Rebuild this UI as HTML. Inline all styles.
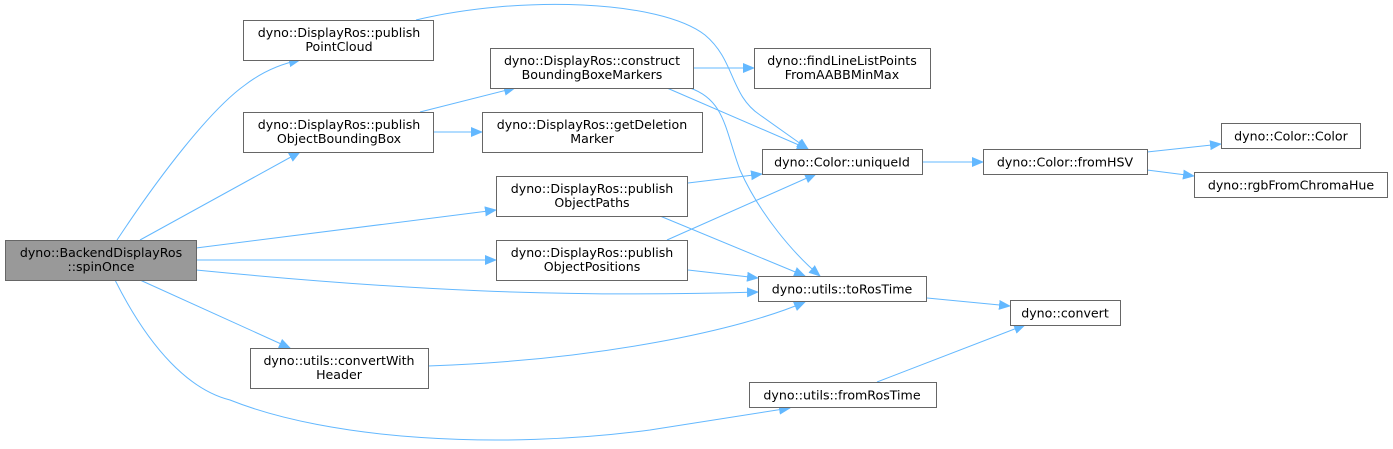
<!DOCTYPE html>
<html><head><meta charset="utf-8"><style>
html,body{margin:0;padding:0;background:#fff;}
svg{display:block;}
text{font-family:"DejaVu Sans","Liberation Sans",sans-serif;font-size:12.6px;fill:#000;text-anchor:middle;}
.b{fill:#fff;stroke:#666;stroke-width:1;}
.e{fill:none;stroke:#63b8ff;stroke-width:1;}
</style></head><body>
<svg width="1393" height="449" viewBox="0 0 1393 449" xmlns="http://www.w3.org/2000/svg">
<defs><marker id="a" markerWidth="12" markerHeight="10" refX="11" refY="5" orient="auto" markerUnits="userSpaceOnUse"><polygon points="0,0 12,5 0,10" fill="#63b8ff"/></marker></defs>
<g class="e" marker-end="url(#a)">
<path d="M117,240 C160,175 210,110 245,85 C262,72 280,64 300,60"/>
<path d="M140,240 L300,152"/>
<path d="M196,248 L496,210"/>
<path d="M196,260 L496,260"/>
<path d="M196,270 C400,290 560,298 758,292"/>
<path d="M140,280 L290,348"/>
<path d="M115,280 C150,350 190,390 230,400 C330,440 500,450 650,430 L790,408"/>
<path d="M416,20 C520,-5 660,0 705,35 C735,60 730,95 760,115 L808,149"/>
<path d="M420,112 L515,88"/>
<path d="M434,132 L482,132"/>
<path d="M693,68 L754,68"/>
<path d="M667,88 L808,149"/>
<path d="M690,88 C725,100 725,130 740,170 C760,215 795,255 820,276"/>
<path d="M688,183 L762,174"/>
<path d="M660,216 L805,276"/>
<path d="M667,240 L816,174"/>
<path d="M688,270 L758,278"/>
<path d="M428,366 C600,360 740,330 805,302"/>
<path d="M922,162 L983,162"/>
<path d="M1147,152 L1221,144"/>
<path d="M1147,170 L1194,176"/>
<path d="M927,298 L1010,306"/>
<path d="M877,382 L1025,325"/>
</g>
<rect x="5.5" y="240.5" width="191" height="40" fill="#999" stroke="#666"/>
<text x="101" y="257">dyno::BackendDisplayRos</text><text x="101" y="271">::spinOnce</text>
<rect class="b" x="243.5" y="20.5" width="190" height="40"/>
<text x="339" y="37">dyno::DisplayRos::publish</text><text x="339" y="51">PointCloud</text>
<rect class="b" x="243.5" y="112.5" width="190" height="40"/>
<text x="339" y="129">dyno::DisplayRos::publish</text><text x="339" y="143">ObjectBoundingBox</text>
<rect class="b" x="490.5" y="48.5" width="203" height="40"/>
<text x="592" y="65">dyno::DisplayRos::construct</text><text x="592" y="79">BoundingBoxeMarkers</text>
<rect class="b" x="482.5" y="112.5" width="220" height="40"/>
<text x="592" y="129">dyno::DisplayRos::getDeletion</text><text x="592" y="143">Marker</text>
<rect class="b" x="496.5" y="176.5" width="191" height="40"/>
<text x="592" y="193">dyno::DisplayRos::publish</text><text x="592" y="207">ObjectPaths</text>
<rect class="b" x="496.5" y="240.5" width="191" height="40"/>
<text x="592" y="257">dyno::DisplayRos::publish</text><text x="592" y="271">ObjectPositions</text>
<rect class="b" x="250.5" y="348.5" width="178" height="40"/>
<text x="339" y="365">dyno::utils::convertWith</text><text x="339" y="379">Header</text>
<rect class="b" x="754.5" y="48.5" width="176" height="40"/>
<text x="842" y="65">dyno::findLineListPoints</text><text x="842" y="79">FromAABBMinMax</text>
<rect class="b" x="762.5" y="149.5" width="160" height="25"/>
<text x="842" y="166.5">dyno::Color::uniqueId</text>
<rect class="b" x="758.5" y="276.5" width="168" height="25"/>
<text x="842" y="293.5">dyno::utils::toRosTime</text>
<rect class="b" x="749.5" y="382.5" width="187" height="25"/>
<text x="842" y="399.5">dyno::utils::fromRosTime</text>
<rect class="b" x="983.5" y="149.5" width="164" height="25"/>
<text x="1065" y="166.5">dyno::Color::fromHSV</text>
<rect class="b" x="1221.5" y="123.5" width="139" height="25"/>
<text x="1291" y="140.5">dyno::Color::Color</text>
<rect class="b" x="1194.5" y="172.5" width="193" height="25"/>
<text x="1291" y="189.5">dyno::rgbFromChromaHue</text>
<rect class="b" x="1010.5" y="300.5" width="110" height="25"/>
<text x="1065" y="317.5">dyno::convert</text>
</svg>
</body></html>
